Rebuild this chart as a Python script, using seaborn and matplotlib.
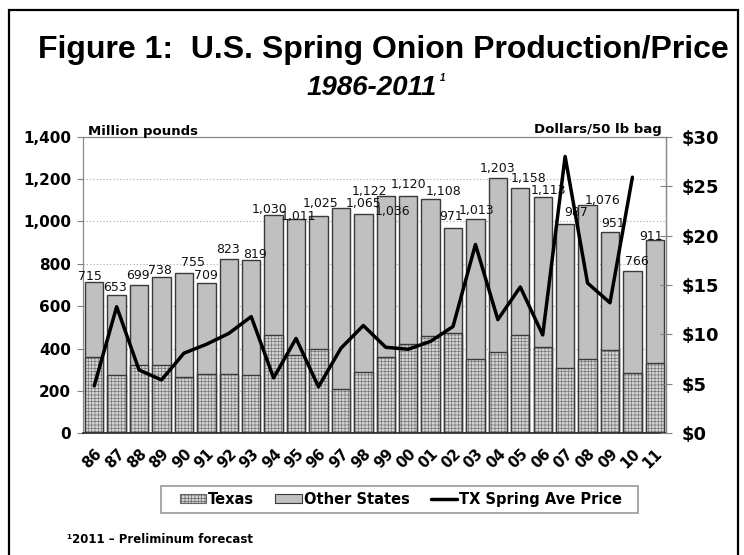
import matplotlib
matplotlib.use("Agg")
import matplotlib.pyplot as plt
import numpy as np
import pandas as pd
import seaborn as sns
from matplotlib.patches import Patch, Rectangle
from matplotlib.lines import Line2D

years = ["86", "87", "88", "89", "90", "91", "92", "93", "94", "95", "96", "97", "98",
         "99", "00", "01", "02", "03", "04", "05", "06", "07", "08", "09", "10", "11"]
# million pounds
totals = [715, 653, 699, 738, 755, 709, 823, 819, 1030, 1011, 1025, 1065, 1036,
          1122, 1120, 1108, 971, 1013, 1203, 1158, 1113, 987, 1076, 951, 766, 911]
texas = [358, 273, 320, 320, 266, 278, 278, 273, 466, 368, 400, 207, 290,
         360, 421, 461, 472, 351, 386, 464, 406, 310, 351, 394, 284, 334]
# $ per 50 lb bag, no 2011 price yet
price = [4.8, 12.8, 6.4, 5.4, 8.1, 9.0, 10.1, 11.8, 5.6, 9.6, 4.7, 8.6, 10.9,
         8.7, 8.5, 9.3, 10.8, 19.1, 11.5, 14.8, 9.95, 28.0, 15.2, 13.2, 25.9, np.nan]

# the excel data labels sit a bit off the bars, nudges in pixels
lab_dx = [-4, -2, -1, -2, 9, 0, -1, 4, -4, 2, 2, 23, 29, -16, 0, 13, -2, 1, 0, 8, 6, 11, 15, 3, 4, -4]
lab_dy = [2, 4, 6, 3, 7, 4, 6, 2, 2, -1, 9, 1, -1, 1, 8, 4, 8, 5, 6, 6, 3, 8, 1, 5, 6, 0]

sns.set_style("white")
plt.rcParams['font.family'] = ['DejaVu Sans']
plt.rcParams['font.weight'] = 'bold'
plt.rcParams['hatch.linewidth'] = 0.5
plt.rcParams['text.color'] = 'black'
plt.rcParams['xtick.color'] = 'black'
plt.rcParams['ytick.color'] = 'black'

df = pd.DataFrame({"year": years, "total": totals, "texas": texas, "price": price})

fig = plt.figure(figsize=(7.44, 5.55), dpi=100)
ax = fig.add_axes([0.1116, 0.2193, 0.7836, 0.5344])

ax.yaxis.grid(True, color="#a8a8a8", linestyle=(0, (1, 2)), linewidth=0.8)
ax.set_axisbelow(True)

sns.barplot(data=df, x="year", y="total", color="#c0c0c0", saturation=1, width=0.82,
            edgecolor="#3a3a3a", linewidth=1.0, ax=ax)
sns.barplot(data=df, x="year", y="texas", color="#d4d4d4", saturation=1, width=0.82,
            edgecolor="#777777", linewidth=0, hatch="+++++", ax=ax)
sns.barplot(data=df, x="year", y="texas", color="#3a3a3a", saturation=1, width=0.82,
            fill=False, linewidth=1.0, ax=ax)

for i, (v, dx, dy) in enumerate(zip(totals, lab_dx, lab_dy)):
    ax.annotate(f"{v:,}", xy=(i, v), xytext=(dx, dy), textcoords="offset pixels",
                ha="center", va="baseline", fontsize=9, fontweight="normal", color="#111111")

ax.set_xlim(-0.5, 25.5)
ax.set_ylim(0, 1400)
ax.set_yticks(range(0, 1401, 200))
ax.set_yticklabels([f"{v:,}" for v in range(0, 1401, 200)])
ax.set_xticks(range(len(years)))
ax.set_xticklabels(years, rotation=45, ha="right", rotation_mode="anchor")
ax.set_xticks(np.arange(-0.5, len(years), 1), minor=True)
ax.tick_params(axis="x", which="major", length=0, labelsize=10.5, pad=9)
ax.tick_params(axis="x", which="minor", length=4, color="#808080", direction="out")
ax.tick_params(axis="y", length=4.5, color="#808080", labelcolor="black", direction="out",
               labelsize=11, pad=4)
ax.set_xlabel("")
ax.set_ylabel("")
for s in ["left", "top", "right"]:
    ax.spines[s].set_color("#8a8a8a")
    ax.spines[s].set_linewidth(0.9)
ax.spines["bottom"].set_color("#222222")
ax.spines["bottom"].set_linewidth(1.2)

ax2 = ax.twinx()
sns.lineplot(x=np.arange(len(years)), y=price, color="black", linewidth=2.5, ax=ax2)
ax2.set_ylim(0, 30)
ax2.set_yticks(range(0, 31, 5))
ax2.set_yticklabels([f"${v}" for v in range(0, 31, 5)])
ax2.tick_params(axis="y", direction="inout", length=9, color="#808080", labelcolor="black",
                labelsize=13, pad=7)
ax2.set_ylabel("")
for s in ["left", "top", "bottom"]:
    ax2.spines[s].set_visible(False)
ax2.spines["right"].set_color("#8a8a8a")
ax2.spines["right"].set_linewidth(0.9)

fig.text(383 / 744, 1 - 58 / 555, "Figure 1:  U.S. Spring Onion Production/Price", ha="center",
         va="baseline", fontsize=23, fontweight="bold", family=["Liberation Sans", "DejaVu Sans"])
sub = fig.text(372 / 744, 1 - 95 / 555, "1986-2011", ha="center", va="baseline", fontsize=20,
               fontweight="bold", style="italic", family=["Liberation Sans", "DejaVu Sans"])
bb = sub.get_window_extent(renderer=fig.canvas.get_renderer())
fig.text(bb.x1 / 744 + 0.003, 1 - 81 / 555, "1", ha="left", va="baseline", fontsize=7,
         style="italic", family=["Liberation Sans", "DejaVu Sans"])
fig.text(88 / 744, 1 - 135 / 555, "Million pounds", fontsize=9.5, va="baseline")
fig.text(662 / 744, 1 - 133 / 555, "Dollars/50 lb bag", fontsize=9.5, va="baseline", ha="right")
fig.text(67 / 744, 1 - 543 / 555, "\u00b92011 \u2013 Preliminum forecast", fontsize=8.5, va="baseline")

handles = [Patch(facecolor="#d4d4d4", edgecolor="#666666", hatch="+++++", linewidth=0.8),
           Patch(facecolor="#c0c0c0", edgecolor="#3a3a3a", linewidth=0.8),
           Line2D([], [], color="black", linewidth=2.5)]
fig.legend(handles, ["Texas", "Other States", "TX Spring Ave Price"], loc="center",
           bbox_to_anchor=(401 / 744, 1 - 499.5 / 555), ncol=3, frameon=False,
           fontsize=10.5, handlelength=1.8, handleheight=0.6, handletextpad=0.15,
           columnspacing=1.45)
fig.add_artist(Rectangle((161 / 744, 1 - 513 / 555), 477 / 744, 27 / 555, transform=fig.transFigure,
                         fill=False, edgecolor="#9a9a9a", linewidth=1.2))
fig.add_artist(Rectangle((9 / 744, -0.05), 729 / 744, 1.05 - 10 / 555, transform=fig.transFigure,
                         fill=False, edgecolor="black", linewidth=1.6))

fig.savefig("out.png", dpi=100)
